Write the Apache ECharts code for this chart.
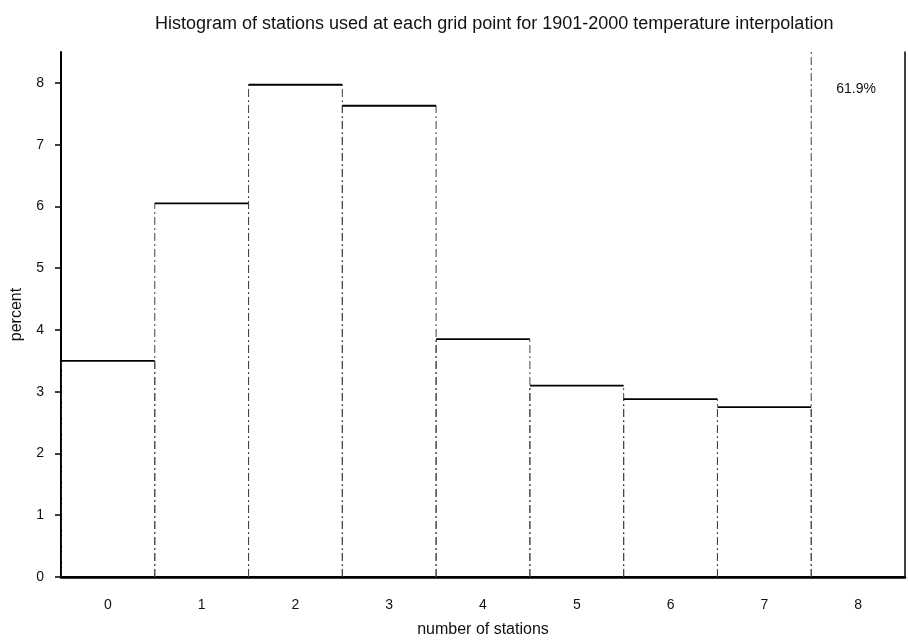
<!DOCTYPE html>
<html>
<head>
<meta charset="utf-8">
<script src="https://cdn.jsdelivr.net/npm/echarts@6/dist/echarts.min.js"></script>
<style>html,body{margin:0;padding:0;background:#fff}#c{width:908px;height:642px}</style>
</head>
<body>
<div id="c"></div>
<script>
const categories = ['0','1','2','3','4','5','6','7','8'];
const percents = [3.5, 6.05, 7.97, 7.63, 3.85, 3.1, 2.88, 2.75, 61.9];
const yTicks = [0,1,2,3,4,5,6,7,8];
const overflowLabel = '61.9%';

const chart = echarts.init(document.getElementById('c'));
const font = 'Liberation Sans, Arial, sans-serif';
chart.setOption({
  animation: false,
  backgroundColor: '#fff',
  title: {
    text: 'Histogram of stations used at each grid point for 1901-2000 temperature interpolation',
    left: 150, top: 10,
    textStyle: {fontFamily: font, fontSize: 18, fontWeight: 'normal', color: '#111'}
  },
  grid: {left: 61, right: 3, top: 52, bottom: 65, containLabel: false, outerBoundsMode: 'none'},
  xAxis: [{
    type: 'category', data: categories, position: 'bottom',
    name: 'number of stations', nameLocation: 'middle', nameGap: 45,
    nameTextStyle: {fontFamily: font, fontSize: 16, color: '#111'},
    axisLine: {lineStyle: {color: '#000', width: 2}},
    axisTick: {alignWithLabel: true, length: 5, lineStyle: {color: '#000', width: 1.5}},
    axisLabel: {fontFamily: font, fontSize: 14, color: '#111', margin: 21}
  }, {
    type: 'category', data: categories, position: 'top',
    axisLine: {lineStyle: {color: '#000', width: 2.5}},
    axisTick: {alignWithLabel: true, length: 6, lineStyle: {color: '#000', width: 1.5}},
    axisLabel: {show: false}
  }],
  yAxis: [{
    type: 'value', min: 0, max: 8.5, interval: 1,
    name: 'percent', nameLocation: 'middle', nameGap: 36,
    nameTextStyle: {fontFamily: font, fontSize: 16, color: '#111'},
    axisLine: {show: true, lineStyle: {color: '#000', width: 2}},
    axisTick: {show: true, length: 6, lineStyle: {color: '#000', width: 1.5}},
    axisLabel: {fontFamily: font, fontSize: 14, color: '#111', margin: 17, showMaxLabel: false,
      formatter: v => yTicks.includes(v) ? String(v) : ''},
    splitLine: {show: false}
  }, {
    type: 'value', min: 0, max: 8.5, interval: 1, position: 'right',
    axisLine: {show: true, lineStyle: {color: '#000', width: 1.5}},
    axisTick: {show: false}, axisLabel: {show: false}, splitLine: {show: false}
  }],
  series: [{
    type: 'custom',
    clip: true,
    data: percents.map((v, i) => [i, v]),
    renderItem: function (params, api) {
      const i = api.value(0), v = api.value(1);
      const top = api.coord([i, v]);
      const base = api.coord([i, 0]);
      const w = api.size([1, 0])[0];
      const cs = params.coordSys;
      const x0 = top[0] - w / 2, x1 = top[0] + w / 2;
      const yTop = Math.max(top[1], cs.y);
      const dashed = {stroke: '#444', lineWidth: 1, lineDash: [8, 3, 2, 3]};
      const children = [
        {type: 'line', shape: {x1: x0, y1: base[1], x2: x0, y2: yTop}, style: dashed},
        {type: 'line', shape: {x1: x1, y1: base[1], x2: x1, y2: yTop}, style: dashed}
      ];
      if (top[1] >= cs.y) {
        children.push({type: 'line', shape: {x1: x0, y1: top[1], x2: x1, y2: top[1]},
          style: {stroke: '#000', lineWidth: 1.8}});
      } else {
        children.push({type: 'text', x: top[0] - 2, y: cs.y + 37,
          style: {text: overflowLabel, fontFamily: font, fontSize: 14, fill: '#111',
            align: 'center', verticalAlign: 'middle'}});
      }
      return {type: 'group', children: children};
    }
  }]
});
</script>
</body>
</html>
